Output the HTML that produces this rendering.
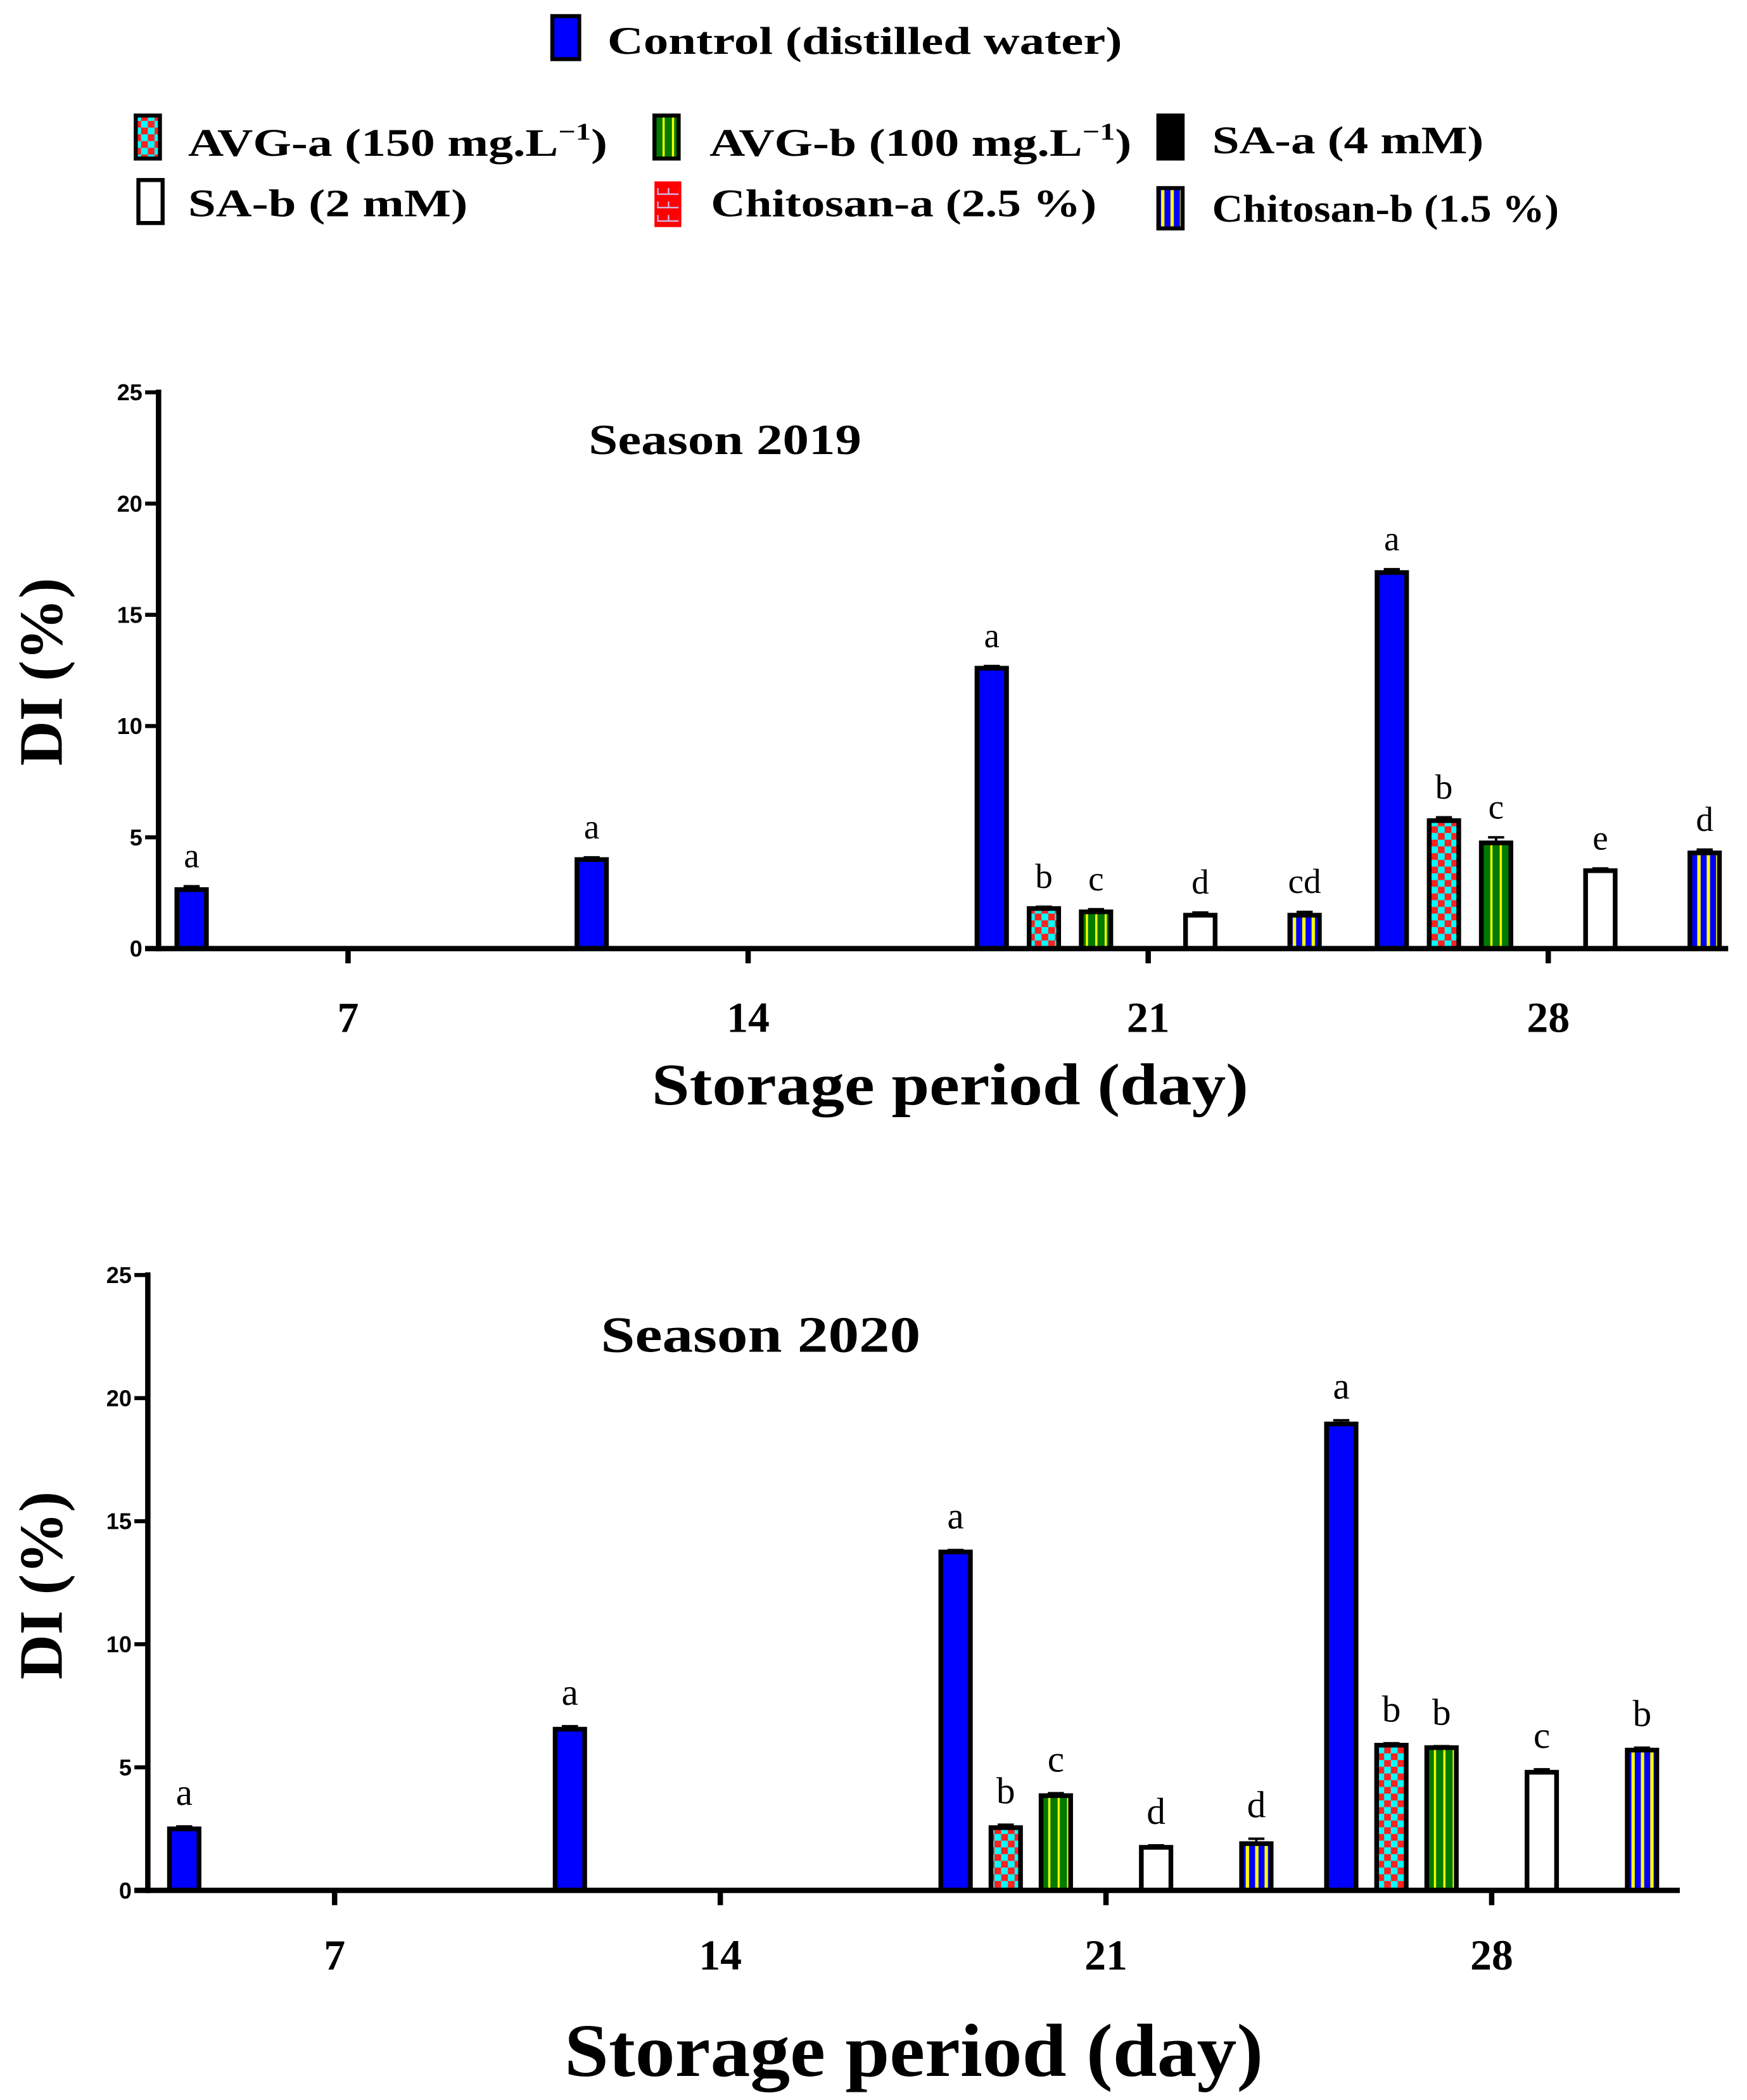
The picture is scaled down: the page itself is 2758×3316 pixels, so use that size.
<!DOCTYPE html>
<html><head><meta charset="utf-8">
<style>
html,body{margin:0;padding:0;background:#fff;}
svg{display:block;}
text{font-family:"Liberation Serif",serif;fill:#000;}
</style></head>
<body>
<svg id="fig" width="2758" height="3316" viewBox="0 0 1300 1563" preserveAspectRatio="none" xmlns="http://www.w3.org/2000/svg">
<defs>
<pattern id="pChecker" patternUnits="userSpaceOnUse" width="10" height="10">
<rect width="10" height="10" fill="#00ffff"/><rect width="5" height="5" fill="#ff2020"/><rect x="5" y="5" width="5" height="5" fill="#ff2020"/>
</pattern>
<pattern id="pGreen" patternUnits="userSpaceOnUse" width="7" height="10">
<rect width="7" height="10" fill="#007a00"/><rect x="3" width="1.6" height="10" fill="#ffff00"/>
</pattern>
<pattern id="pBlueY" patternUnits="userSpaceOnUse" width="7" height="10">
<rect width="7" height="10" fill="#0000ff"/><rect x="3" width="2.5" height="10" fill="#ffff00"/>
</pattern>
<pattern id="pBrick" patternUnits="userSpaceOnUse" width="8" height="10">
<rect width="8" height="10" fill="#ff0000"/><rect y="4" width="8" height="1" fill="#ccccff"/><rect x="1" width="1" height="4" fill="#ccccff"/>
</pattern>
</defs>
<g id="legend" font-weight="bold" font-size="29">
<g><rect x="411" y="12" width="20" height="32" fill="#0000ff" stroke="#000" stroke-width="3"/><text x="452" y="40" textLength="383" lengthAdjust="spacingAndGlyphs">Control (distilled water)</text></g>
<g><rect x="101" y="86" width="18" height="32" fill="url(#pChecker)" stroke="#000" stroke-width="3"/><text x="140" y="116" textLength="312" lengthAdjust="spacingAndGlyphs">AVG-a (150 mg.L<tspan dy="-12" font-size="18">−1</tspan><tspan dy="12">)</tspan></text></g>
<g><rect x="487" y="86" width="18" height="32" fill="url(#pGreen)" stroke="#000" stroke-width="3"/><text x="528" y="116" textLength="314" lengthAdjust="spacingAndGlyphs">AVG-b (100 mg.L<tspan dy="-12" font-size="18">−1</tspan><tspan dy="12">)</tspan></text></g>
<g><rect x="862" y="86" width="18" height="32" fill="#000" stroke="#000" stroke-width="3"/><text x="902" y="114" textLength="202" lengthAdjust="spacingAndGlyphs">SA-a (4 mM)</text></g>
<g><rect x="103" y="134" width="18" height="32" fill="#fff" stroke="#000" stroke-width="3"/><text x="140" y="161" textLength="208" lengthAdjust="spacingAndGlyphs">SA-b (2 mM)</text></g>
<g><rect x="488" y="136" width="18" height="32" fill="url(#pBrick)" stroke="#ff0000" stroke-width="2"/><text x="529" y="161" textLength="287" lengthAdjust="spacingAndGlyphs">Chitosan-a (2.5 %)</text></g>
<g><rect x="862" y="140" width="18" height="30" fill="url(#pBlueY)" stroke="#000" stroke-width="3"/><text x="902" y="165" textLength="258" lengthAdjust="spacingAndGlyphs">Chitosan-b (1.5 %)</text></g>
</g>
<g id="chart1"></g>
<g id="chart2"></g>
</svg>
<script>
const treatments = ["Control","AVG-a","AVG-b","SA-a","SA-b","Chitosan-a","Chitosan-b"];
const fills = ["#0000ff","url(#pChecker)","url(#pGreen)","#000","#fff","url(#pBrick)","url(#pBlueY)"];
const days = [7,14,21,28];
const yTicks = [0,5,10,15,20,25];
// Season 2019 values (rows = days, cols = treatments; null = no bar)
const s2019Day7 = [2.65,null,null,null,null,null,null];
const s2019Day14 = [4.0,null,null,null,null,null,null];
const s2019Day21 = [12.6,1.8,1.65,0,1.5,0,1.5];
const s2019Day28 = [16.9,5.75,4.75,0,3.5,0,4.3];
const s2019Err7 = [0.15,0,0,0,0,0,0];
const s2019Err14 = [0.1,0,0,0,0,0,0];
const s2019Err21 = [0.1,0.08,0.12,0,0.12,0,0.15];
const s2019Err28 = [0.15,0.15,0.25,0,0.1,0,0.15];
const s2019Let7 = ["a","","","","","",""];
const s2019Let14 = ["a","","","","","",""];
const s2019Let21 = ["a","b","c","","d","","cd"];
const s2019Let28 = ["a","b","c","","e","","d"];
// Season 2020
const s2020Day7 = [2.5,null,null,null,null,null,null];
const s2020Day14 = [6.55,null,null,null,null,null,null];
const s2020Day21 = [13.75,2.55,3.85,0,1.75,0,1.9];
const s2020Day28 = [18.95,5.9,5.8,0,4.8,0,5.7];
const s2020Err7 = [0.1,0,0,0,0,0,0];
const s2020Err14 = [0.12,0,0,0,0,0,0];
const s2020Err21 = [0.08,0.12,0.1,0,0.08,0,0.2];
const s2020Err28 = [0.15,0.08,0.06,0,0.12,0,0.1];
const s2020Let7 = ["a","","","","","",""];
const s2020Let14 = ["a","","","","","",""];
const s2020Let21 = ["a","b","c","","d","","d"];
const s2020Let28 = ["a","b","b","","c","","b"];

const NS="http://www.w3.org/2000/svg";
function mk(tag, attrs, parent, txt){
  const e=document.createElementNS(NS,tag);
  for(const k in attrs) e.setAttribute(k,attrs[k]);
  if(txt!==undefined) e.textContent=txt;
  parent.appendChild(e); return e;
}
function drawChart(g, cfg, vals, errs, lets){
  const yS = v => cfg.y0 - v*(cfg.y0-cfg.y25)/25;
  const xTick = i => cfg.t0 + i*cfg.tStep;
  const xBar = (i,j) => xTick(i) + (j-3)*cfg.slot;
  vals.forEach((row,i)=>{
    row.forEach((v,j)=>{
      if(v===null) return;
      const cx=xBar(i,j), bw=cfg.bw;
      if(v>0){
        const r=mk('rect',{x:cx-bw/2,y:yS(v),width:bw,height:cfg.y0-yS(v),fill:fills[j],stroke:'#000','stroke-width':3.5},g);
        
        
        const e=errs[i][j];
        const eb=mk('path',{d:`M${cx} ${yS(v)} V${yS(v+e)} M${cx-6} ${yS(v+e)} H${cx+6}`,stroke:'#000','stroke-width':1.8,fill:'none'},g);
        
        
      }
      const L=lets[i][j];
      if(L){
        const t=mk('text',{x:cx,y:yS(v+errs[i][j])-cfg.letGap,'text-anchor':'middle','font-size':cfg.letFs},g,L);
        
        
      }
    });
  });
  const ya=mk('line',{x1:cfg.ax,y1:cfg.y25-2,x2:cfg.ax,y2:cfg.y0+2,stroke:'#000','stroke-width':4},g);
  
  
  const xa=mk('line',{x1:cfg.ax-10,y1:cfg.y0,x2:cfg.xEnd,y2:cfg.y0,stroke:'#000','stroke-width':4},g);
  
  
  yTicks.forEach(v=>{
    mk('line',{x1:cfg.ax-10,y1:yS(v),x2:cfg.ax,y2:yS(v),stroke:'#000','stroke-width':3},g);
    const t=mk('text',{x:cfg.ax-12,y:yS(v)+6,'text-anchor':'end','font-size':17,'font-weight':'bold','font-family':'Liberation Sans, sans-serif',style:'font-family:"Liberation Sans",sans-serif'},g,String(v));
    
    
  });
  days.forEach((d,i)=>{
    mk('line',{x1:xTick(i),y1:cfg.y0,x2:xTick(i),y2:cfg.y0+11,stroke:'#000','stroke-width':4},g);
    const t=mk('text',{x:xTick(i),y:cfg.xtY,'text-anchor':'middle','font-weight':'bold','font-size':32},g,String(d));
    
    
  });
  const ti=mk('text',{x:cfg.titleX,y:cfg.titleY,'font-weight':'bold','font-size':cfg.titleFs,textLength:cfg.titleW,lengthAdjust:'spacingAndGlyphs'},g,cfg.title);
  
  
  const xt=mk('text',{x:cfg.xtitleX,y:cfg.xtitleY,'font-weight':'bold','font-size':cfg.xtitleFs,textLength:cfg.xtitleW,lengthAdjust:'spacingAndGlyphs'},g,'Storage period (day)');
  
  
  const yt=mk('text',{x:0,y:0,'font-weight':'bold','font-size':46,'text-anchor':'middle',transform:`translate(${cfg.ytitleX},${cfg.ytitleY}) rotate(-90)`,textLength:140,lengthAdjust:'spacingAndGlyphs'},g,'DI (%)');
  
  
}
drawChart(document.getElementById('chart1'),
  {y0:706,y25:292,ax:118,xEnd:1286,t0:259,tStep:297.7,slot:38.8,bw:22,letGap:14,letFs:26,xtY:768,
   title:'Season 2019',titleX:438,titleY:338,titleFs:32,titleW:203,
   xtitleX:485,xtitleY:822,xtitleFs:44,xtitleW:444,ytitleX:46,ytitleY:500},
  [s2019Day7,s2019Day14,s2019Day21,s2019Day28],[s2019Err7,s2019Err14,s2019Err21,s2019Err28],
  [s2019Let7,s2019Let14,s2019Let21,s2019Let28]);
drawChart(document.getElementById('chart2'),
  {y0:1407,y25:949,ax:110,xEnd:1250,t0:249,tStep:287,slot:37.3,bw:22,letGap:16,letFs:28,xtY:1466,
   title:'Season 2020',titleX:447,titleY:1006,titleFs:38,titleW:238,
   xtitleX:420,xtitleY:1545,xtitleFs:56,xtitleW:520,ytitleX:46,ytitleY:1180},
  [s2020Day7,s2020Day14,s2020Day21,s2020Day28],[s2020Err7,s2020Err14,s2020Err21,s2020Err28],
  [s2020Let7,s2020Let14,s2020Let21,s2020Let28]);
</script>
</body></html>
